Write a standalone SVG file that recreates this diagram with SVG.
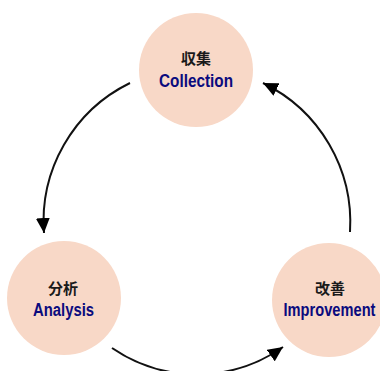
<svg xmlns="http://www.w3.org/2000/svg" width="380" height="371" viewBox="0 0 380 371">
  <style>
    .node circle { fill: #F8D8C7; }
    .jp { font-family: "Noto Sans CJK JP", "Noto Sans CJK SC", sans-serif; font-size: 15px; font-weight: 700; fill: #1a1a1a; text-anchor: middle; }
    .en { font-family: "Liberation Sans", Arial, sans-serif; font-size: 18px; font-weight: bold; fill: #0B0B7E; text-anchor: middle; }
    .edge { fill: none; stroke: #111; stroke-width: 2; marker-end: url(#arrow); }
  </style>
  <defs>
    <marker id="arrow" viewBox="0 0 15 14" refX="15" refY="7" markerWidth="15" markerHeight="14" markerUnits="userSpaceOnUse" orient="auto">
      <path d="M0,0 L15,7 L0,14 z" fill="#000"/>
    </marker>
  </defs>

  <g id="connectors">
    <path class="edge" d="M130,83 A154,154 0 0,0 44,233"/>
    <path class="edge" d="M350,232 A155,155 0 0,0 263,83"/>
    <path class="edge" d="M112,348 A150,150 0 0,0 283,347"/>
  </g>

  <g id="collection" class="node">
    <circle cx="196" cy="70" r="57"/>
    <text class="jp" x="196" y="64">収集</text>
    <text class="en" x="196" y="87" textLength="74" lengthAdjust="spacingAndGlyphs">Collection</text>
  </g>

  <g id="analysis" class="node">
    <circle cx="64" cy="298" r="57"/>
    <text class="jp" x="63" y="294">分析</text>
    <text class="en" x="63.5" y="316" textLength="61" lengthAdjust="spacingAndGlyphs">Analysis</text>
  </g>

  <g id="improvement" class="node">
    <circle cx="329" cy="300" r="57"/>
    <text class="jp" x="330" y="294">改善</text>
    <text class="en" x="329.5" y="316" textLength="92" lengthAdjust="spacingAndGlyphs">Improvement</text>
  </g>
</svg>
